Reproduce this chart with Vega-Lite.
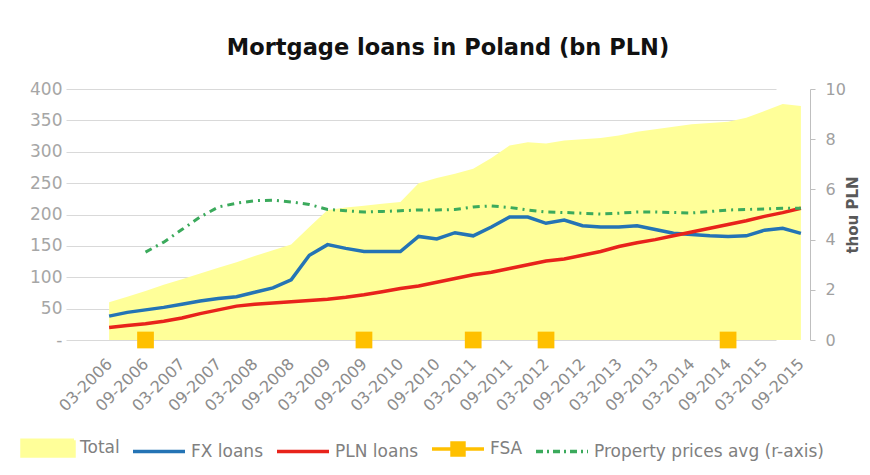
{
  "$schema": "https://vega.github.io/schema/vega-lite/v6.json",
  "width": 710,
  "height": 251,
  "autosize": "none",
  "padding": {"left": 100, "top": 89, "right": 60, "bottom": 135},
  "background": "white",
  "title": {
    "text": "Mortgage loans in Poland (bn PLN)",
    "font": "DejaVu Sans",
    "fontSize": 22.5,
    "fontWeight": "bold",
    "color": "#111111",
    "anchor": "middle",
    "dx": -7,
    "offset": 21
  },
  "data": {
    "values": [
      {"q": "03-2006", "t": 60, "fx": 38, "pln": 20, "pp": null, "fsa": null},
      {"q": "06-2006", "t": 69, "fx": 44, "pln": 23, "pp": null, "fsa": null},
      {"q": "09-2006", "t": 78, "fx": 48, "pln": 26, "pp": 3.5, "fsa": 0},
      {"q": "12-2006", "t": 88, "fx": 52, "pln": 30, "pp": 3.9, "fsa": null},
      {"q": "03-2007", "t": 97, "fx": 57, "pln": 35, "pp": 4.4, "fsa": null},
      {"q": "06-2007", "t": 106, "fx": 62, "pln": 42, "pp": 4.9, "fsa": null},
      {"q": "09-2007", "t": 115, "fx": 66, "pln": 48, "pp": 5.3, "fsa": null},
      {"q": "12-2007", "t": 124, "fx": 69, "pln": 54, "pp": 5.45, "fsa": null},
      {"q": "03-2008", "t": 134, "fx": 76, "pln": 57, "pp": 5.55, "fsa": null},
      {"q": "06-2008", "t": 143, "fx": 83, "pln": 59, "pp": 5.57, "fsa": null},
      {"q": "09-2008", "t": 152, "fx": 96, "pln": 61, "pp": 5.5, "fsa": null},
      {"q": "12-2008", "t": 180, "fx": 135, "pln": 63, "pp": 5.4, "fsa": null},
      {"q": "03-2009", "t": 207, "fx": 152, "pln": 65, "pp": 5.2, "fsa": null},
      {"q": "06-2009", "t": 211, "fx": 146, "pln": 68, "pp": 5.15, "fsa": null},
      {"q": "09-2009", "t": 214, "fx": 141, "pln": 72, "pp": 5.1, "fsa": 0},
      {"q": "12-2009", "t": 217, "fx": 141, "pln": 77, "pp": 5.12, "fsa": null},
      {"q": "03-2010", "t": 220, "fx": 141, "pln": 82, "pp": 5.15, "fsa": null},
      {"q": "06-2010", "t": 250, "fx": 165, "pln": 86, "pp": 5.18, "fsa": null},
      {"q": "09-2010", "t": 258, "fx": 161, "pln": 92, "pp": 5.18, "fsa": null},
      {"q": "12-2010", "t": 265, "fx": 171, "pln": 98, "pp": 5.2, "fsa": null},
      {"q": "03-2011", "t": 273, "fx": 166, "pln": 104, "pp": 5.3, "fsa": 0},
      {"q": "06-2011", "t": 290, "fx": 180, "pln": 108, "pp": 5.34, "fsa": null},
      {"q": "09-2011", "t": 310, "fx": 196, "pln": 114, "pp": 5.28, "fsa": null},
      {"q": "12-2011", "t": 315, "fx": 196, "pln": 120, "pp": 5.18, "fsa": null},
      {"q": "03-2012", "t": 313, "fx": 186, "pln": 126, "pp": 5.1, "fsa": 0},
      {"q": "06-2012", "t": 318, "fx": 191, "pln": 129, "pp": 5.08, "fsa": null},
      {"q": "09-2012", "t": 320, "fx": 182, "pln": 135, "pp": 5.05, "fsa": null},
      {"q": "12-2012", "t": 322, "fx": 180, "pln": 141, "pp": 5.02, "fsa": null},
      {"q": "03-2013", "t": 326, "fx": 180, "pln": 149, "pp": 5.05, "fsa": null},
      {"q": "06-2013", "t": 332, "fx": 182, "pln": 155, "pp": 5.1, "fsa": null},
      {"q": "09-2013", "t": 336, "fx": 176, "pln": 160, "pp": 5.1, "fsa": null},
      {"q": "12-2013", "t": 340, "fx": 170, "pln": 166, "pp": 5.08, "fsa": null},
      {"q": "03-2014", "t": 344, "fx": 168, "pln": 172, "pp": 5.06, "fsa": null},
      {"q": "06-2014", "t": 346, "fx": 166, "pln": 178, "pp": 5.12, "fsa": null},
      {"q": "09-2014", "t": 348, "fx": 165, "pln": 184, "pp": 5.18, "fsa": 0},
      {"q": "12-2014", "t": 354, "fx": 166, "pln": 190, "pp": 5.2, "fsa": null},
      {"q": "03-2015", "t": 365, "fx": 175, "pln": 197, "pp": 5.22, "fsa": null},
      {"q": "06-2015", "t": 376, "fx": 178, "pln": 203, "pp": 5.25, "fsa": null},
      {"q": "09-2015", "t": 373, "fx": 170, "pln": 210, "pp": 5.25, "fsa": null}
    ]
  },
  "encoding": {
    "x": {
      "field": "q", "type": "ordinal", "title": null,
      "scale": {"type": "point", "padding": 0.5, "domain": ["03-2006","06-2006","09-2006","12-2006","03-2007","06-2007","09-2007","12-2007","03-2008","06-2008","09-2008","12-2008","03-2009","06-2009","09-2009","12-2009","03-2010","06-2010","09-2010","12-2010","03-2011","06-2011","09-2011","12-2011","03-2012","06-2012","09-2012","12-2012","03-2013","06-2013","09-2013","12-2013","03-2014","06-2014","09-2014","12-2014","03-2015","06-2015","09-2015"]},
      "axis": {
        "labelAngle": -45,
        "labelAlign": "right",
        "labelBaseline": "middle",
        "labelPadding": 21,
        "labelOverlap": false,
        "labelFontSize": 16,
        "labelColor": "#8c8c8c",
        "labelExpr": "(substring(datum.label,0,2) == '06' || substring(datum.label,0,2) == '12') ? '' : datum.label",
        "ticks": false,
        "domain": false,
        "grid": false
      }
    }
  },
  "layer": [
    {
      "layer": [
        {
          "mark": {"type": "area", "opacity": 1},
          "encoding": {
            "y": {
              "field": "t", "type": "quantitative", "title": null,
              "scale": {"domain": [0, 400], "nice": false}
            },
            "color": {
              "datum": "Total", "type": "nominal",
              "legend": {
                "orient": "none",
                "legendX": -80,
                "legendY": 331,
                "direction": "horizontal",
                "title": null,
                "encoding": {
                  "symbols": {
                    "shape": {"value": {"expr": "datum.value === 'Total' ? 'M-1,-0.3H1V0.3H-1Z' : (datum.value === 'FSA' ? 'M-1,0H1M-0.23,-0.23H0.23V0.23H-0.23Z' : 'M-1,0H1')"}},
                    "fill": {"value": {"expr": "(datum.value === 'Total' || datum.value === 'FSA') ? scale('color', datum.value) : 'transparent'"}},
                    "stroke": {"value": {"expr": "datum.value === 'Total' ? 'transparent' : scale('color', datum.value)"}},
                    "strokeDash": {"value": {"expr": "datum.value === 'Property prices avg (r-axis)' ? [7,4,2,4] : [1,0]"}},
                    "strokeWidth": {"value": 3.5},
                    "opacity": {"value": 1}
                  }
                }
              }
            }
          }
        },
        {
          "mark": {"type": "line", "strokeWidth": 3.5},
          "encoding": {
            "y": {"field": "fx", "type": "quantitative", "title": null},
            "color": {"datum": "FX loans", "type": "nominal"}
          }
        },
        {
          "mark": {"type": "line", "strokeWidth": 3.5},
          "encoding": {
            "y": {"field": "pln", "type": "quantitative", "title": null},
            "color": {"datum": "PLN loans", "type": "nominal"}
          }
        },
        {
          "mark": {"type": "point", "shape": "square", "filled": true, "size": 280, "opacity": 1},
          "encoding": {
            "y": {"field": "fsa", "type": "quantitative", "title": null},
            "color": {"datum": "FSA", "type": "nominal"}
          }
        }
      ]
    },
    {
      "mark": {"type": "line", "strokeWidth": 3, "strokeDash": [7, 5, 2, 5]},
      "encoding": {
        "y": {
          "field": "pp", "type": "quantitative",
          "scale": {"domain": [0, 10], "nice": false},
          "axis": {
            "orient": "right",
            "title": "thou PLN",
            "titleFontSize": 15,
            "titleFontWeight": "bold",
            "titleColor": "#595959",
            "titleAngle": 270,
            "titlePadding": 15,
            "values": [0, 2, 4, 6, 8, 10],
            "labelFontSize": 16,
            "labelColor": "#a0a0a0",
            "labelPadding": 10,
            "tickSize": 5,
            "tickColor": "#bfbfbf",
            "domain": true,
            "domainColor": "#bfbfbf",
            "grid": false
          }
        },
        "color": {"datum": "Property prices avg (r-axis)", "type": "nominal"}
      }
    }
  ],
  "resolve": {"scale": {"y": "independent"}},
  "config": {
    "view": {"stroke": null},
    "font": "DejaVu Sans",
    "range": {
      "category": ["#FFFF99", "#2474B5", "#E8231B", "#FFC000", "#3BAA5C"]
    },
    "axisLeft": {
      "tickCount": 8,
      "labelExpr": "datum.value == 0 ? '-' : datum.label",
      "labelFontSize": 17,
      "labelColor": "#a6a6a6",
      "labelAlign": "right",
      "labelPadding": 4,
      "offset": 34,
      "labelOverlap": false,
      "ticks": false,
      "domain": false,
      "grid": true,
      "gridColor": "#d9d9d9",
      "gridWidth": 1.2
    },
    "legend": {
      "labelFontSize": 17,
      "labelColor": "#808080",
      "labelLimit": 400,
      "labelOffset": 4,
      "columnPadding": 6,
      "symbolSize": 2704,
      "symbolStrokeWidth": 3.5,
      "symbolOpacity": 1
    }
  }
}
